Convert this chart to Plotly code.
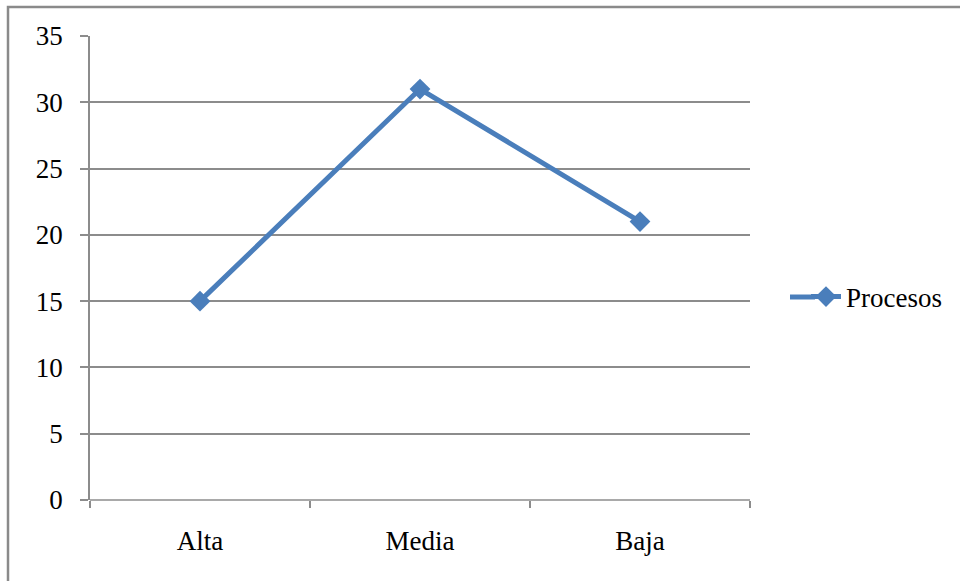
import plotly.graph_objects as go

categories = ["Alta", "Media", "Baja"]
procesos = [15, 31, 21]
y_ticks = [0, 5, 10, 15, 20, 25, 30, 35]

LINE_BLUE = "#4a7ebb"
GRID = "#8c8c8c"
FONT = "Liberation Serif, Times New Roman, serif"

fig = go.Figure()
fig.add_trace(go.Scatter(
    x=categories, y=procesos, name="Procesos",
    mode="lines+markers",
    line=dict(color=LINE_BLUE, width=5),
    marker=dict(symbol="diamond", size=16, color=LINE_BLUE),
))

W, H = 960, 581
L, R, T, B = 90, 210, 36, 81
pw, ph = W - L - R, H - T - B

def px_x(p):
    return (p - L) / pw

def px_y(p):
    return (H - B - p) / ph

fig.update_layout(
    width=W, height=H,
    margin=dict(l=L, r=R, t=T, b=B),
    paper_bgcolor="white", plot_bgcolor="white",
    font=dict(family=FONT, size=27, color="black"),
    showlegend=True,
    legend=dict(x=px_x(806), y=px_y(297), xanchor="left", yanchor="middle",
                font=dict(size=27), bgcolor="rgba(0,0,0,0)", itemwidth=30),
    xaxis=dict(
        type="category", range=[-0.5, 2.5],
        showgrid=False, showline=False, zeroline=False,
        ticks="outside", tickson="boundaries", ticklen=7,
        tickcolor=GRID, tickwidth=1.5, ticklabelstandoff=22,
    ),
    yaxis=dict(
        range=[0, 35], tickvals=y_ticks,
        showgrid=True, gridcolor=GRID, gridwidth=1.5,
        showline=True, linecolor=GRID, linewidth=1.5, zeroline=False,
        ticks="outside", ticklen=8, tickcolor=GRID, tickwidth=1.5,
        ticklabelstandoff=12,
    ),
    shapes=[
        # outer chart frame
        dict(type="rect", xref="paper", yref="paper",
             x0=px_x(8), y0=px_y(7), x1=px_x(1000), y1=px_y(620),
             line=dict(color="#8a8a8a", width=2.5), layer="below"),
        # baseline of the category axis
        dict(type="line", xref="paper", yref="paper",
             x0=0, x1=1, y0=0, y1=0,
             line=dict(color=GRID, width=1.5)),
        # longer lead-in for the legend swatch line
        dict(type="line", xref="paper", yref="paper",
             x0=px_x(790), x1=px_x(815), y0=px_y(297), y1=px_y(297),
             line=dict(color=LINE_BLUE, width=5)),
    ],
)

fig.write_html("out.html")
